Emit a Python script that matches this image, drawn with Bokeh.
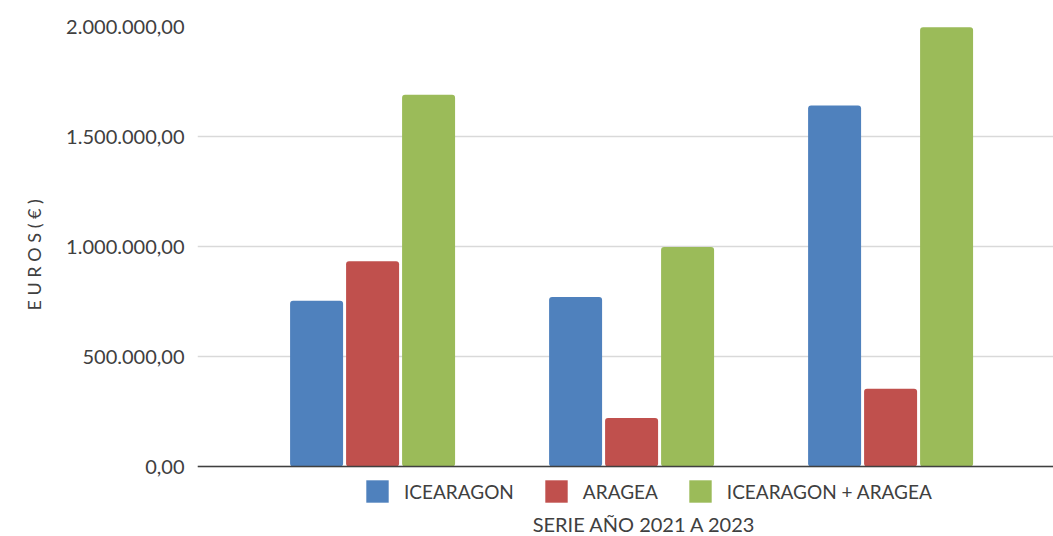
import math
from bokeh.plotting import figure
from bokeh.models import (ColumnDataSource, Range1d, FixedTicker, Legend, LegendItem,
                          Label, Span, Title, CustomJSTickFormatter)
from bokeh.embed import file_html
from bokeh.resources import INLINE

# ---- data ----
years = ["2021", "2022", "2023"]
series_names = ["ICEARAGON", "ARAGEA", "ICEARAGON + ARAGEA"]
icearagon = [754000, 770000, 1641000]
aragea = [933000, 221000, 353000]
icearagon_aragea = [1690000, 998000, 1997000]
colors = ["#4F81BD", "#C0504D", "#9BBB59"]
y_ticks = [0, 500000, 1000000, 1500000, 2000000]
y_title = "E U R O S ( € )"
x_title = "SERIE AÑO 2021 A 2023"

FONT = "Lato"
TEXT = "#404040"

p = figure(width=1053, height=536, output_backend="svg", toolbar_location=None,
           x_range=Range1d(-0.676, 2.629), y_range=Range1d(-318000, 2000000),
           x_axis_location=None,
           min_border_left=197, min_border_right=0, min_border_top=26, min_border_bottom=0)
p.outline_line_color = None
p.background_fill_color = "white"
p.border_fill_color = "white"

idx = list(range(len(years)))
step = 0.2162
width = 0.2046
renderers = []
for k, (vals, col) in enumerate(zip([icearagon, aragea, icearagon_aragea], colors)):
    src = ColumnDataSource(dict(x=[i + (k - 1) * step for i in idx], top=vals, year=years))
    r = p.vbar(x="x", top="top", width=width, bottom=0, source=src,
               fill_color=col, line_color=None, border_radius=3)
    renderers.append(r)

# y axis
p.yaxis.ticker = FixedTicker(ticks=y_ticks)
p.yaxis.formatter = CustomJSTickFormatter(code="""
    const s = tick.toFixed(2);
    const parts = s.split('.');
    const ip = parts[0].replace(/\\B(?=(\\d{3})+(?!\\d))/g, '.');
    return ip + ',' + parts[1];
""")
p.yaxis.axis_line_color = None
p.yaxis.major_tick_line_color = None
p.yaxis.minor_tick_line_color = None
p.yaxis.major_tick_out = 0
p.yaxis.major_tick_in = 0
p.yaxis.minor_tick_out = 0
p.yaxis.major_label_standoff = 13
p.yaxis.major_label_text_font = FONT
p.yaxis.major_label_text_font_size = "20px"
p.yaxis.major_label_text_color = TEXT

p.ygrid.ticker = FixedTicker(ticks=y_ticks)
p.ygrid.grid_line_color = "#D9D9D9"
p.ygrid.grid_line_width = 1.5
p.xgrid.grid_line_color = None

# baseline (category axis line)
p.add_layout(Span(location=0, dimension="width", line_color="#404040", line_width=1.5))

# y axis title (side title, shifted up from the frame bottom)
p.add_layout(Title(text=y_title, align="left", offset=226, standoff=33, vertical_align="top",
                   text_font=FONT, text_font_size="18px", text_font_style="normal",
                   text_color=TEXT), "left")

# legend
legend = Legend(items=[LegendItem(label=n, renderers=[r]) for n, r in zip(series_names, renderers)],
                orientation="horizontal", location=(166, 31),
                glyph_width=28, glyph_height=28, label_standoff=13, spacing=28,
                label_text_font=FONT, label_text_font_size="19px", label_text_color=TEXT,
                border_line_color=None, padding=0, margin=0, background_fill_alpha=0)
p.add_layout(legend)

# x axis title
p.add_layout(Label(x=1.05, y=-263000, text=x_title, text_align="center", text_baseline="middle",
                   text_font=FONT, text_font_size="20px", text_color=TEXT))

open("out.html", "w").write(file_html(p, INLINE))
